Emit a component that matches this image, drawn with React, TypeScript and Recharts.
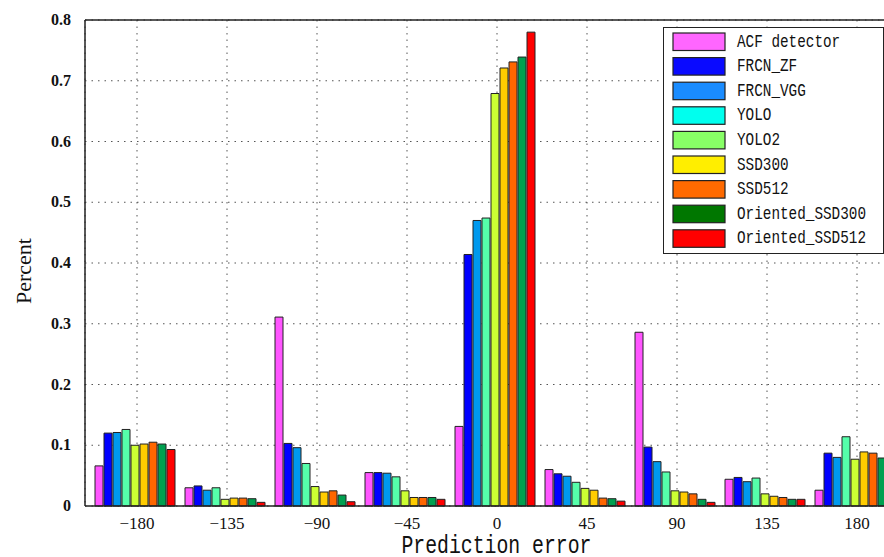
import { BarChart, Bar, XAxis, YAxis, CartesianGrid, Legend, Label, ReferenceLine } from "recharts";

const categories = [-180, -135, -90, -45, 0, 45, 90, 135, 180];
const yTicks = [0, 0.1, 0.2, 0.3, 0.4, 0.5, 0.6, 0.7, 0.8];

const acf = [0.066, 0.03, 0.311, 0.055, 0.131, 0.06, 0.286, 0.044, 0.026];
const frcnZf = [0.12, 0.033, 0.103, 0.055, 0.414, 0.053, 0.097, 0.047, 0.087];
const frcnVgg = [0.121, 0.026, 0.096, 0.054, 0.47, 0.049, 0.073, 0.04, 0.08];
const yolo = [0.126, 0.03, 0.07, 0.048, 0.474, 0.039, 0.056, 0.046, 0.114];
const yolo2 = [0.1, 0.011, 0.032, 0.025, 0.679, 0.029, 0.025, 0.02, 0.077];
const ssd300 = [0.102, 0.013, 0.023, 0.014, 0.721, 0.026, 0.023, 0.016, 0.089];
const ssd512 = [0.105, 0.013, 0.025, 0.014, 0.731, 0.013, 0.02, 0.014, 0.087];
const orientedSsd300 = [0.102, 0.012, 0.018, 0.014, 0.739, 0.012, 0.011, 0.011, 0.079];
const orientedSsd512 = [0.093, 0.006, 0.007, 0.011, 0.78, 0.008, 0.006, 0.011, 0.065];

const series = [
  { key: "acf", name: "ACF detector", values: acf, fill: "#ff55ff", legend: "#ff66ff" },
  { key: "frcnZf", name: "FRCN_ZF", values: frcnZf, fill: "#0000ff", legend: "#0a0aff" },
  { key: "frcnVgg", name: "FRCN_VGG", values: frcnVgg, fill: "#0099ee", legend: "#1a8cff" },
  { key: "yolo", name: "YOLO", values: yolo, fill: "#55ffaa", legend: "#00ffee" },
  { key: "yolo2", name: "YOLO2", values: yolo2, fill: "#ccff33", legend: "#88ff66" },
  { key: "ssd300", name: "SSD300", values: ssd300, fill: "#ffcc00", legend: "#ffee00" },
  { key: "ssd512", name: "SSD512", values: ssd512, fill: "#ff6600", legend: "#ff6a00" },
  { key: "oSsd300", name: "Oriented_SSD300", values: orientedSsd300, fill: "#00a050", legend: "#007700" },
  { key: "oSsd512", name: "Oriented_SSD512", values: orientedSsd512, fill: "#ff0000", legend: "#ff0000" },
];

const data = categories.map((c, i) => {
  const row: Record<string, number> = { angle: c };
  series.forEach((s) => (row[s.key] = s.values[i]));
  return row;
});

const monoFont = "Liberation Mono, DejaVu Sans Mono, monospace";
const serifFont = "Liberation Serif, DejaVu Serif, serif";

function XTick({ x, y, payload }: any) {
  return (
    <text x={x} y={y + 12} textAnchor="middle" style={{ fontFamily: serifFont, fontSize: 17 }} fill="#111">
      {String(payload.value).replace("-", "\u2212")}
    </text>
  );
}

function YTick({ x, y, payload }: any) {
  const v = payload.value;
  return (
    <text x={x} y={y + 5} textAnchor="end" style={{ fontFamily: serifFont, fontSize: 16, fontWeight: "bold" }} fill="#111">
      {v === 0 ? "0" : Number(v).toFixed(1)}
    </text>
  );
}

function LegendBox() {
  const rowStep = 24.6;
  return (
    <svg width={222} height={228} style={{ display: "block" }}>
      <rect x={0.5} y={0.5} width={220} height={226} fill="#fff" stroke="#222" />
      {series.map((s, i) => {
        const top = 6 + i * rowStep;
        return (
          <g key={s.key}>
            <rect x={10} y={top} width={52} height={17.5} fill={s.legend} stroke="#222" strokeWidth={1.2} />
            <text
              x={74}
              y={top + 13.5}
              style={{ fontFamily: monoFont, fontSize: 18 }}
              fill="#111"
              textLength={s.name.length * 8.6}
              lengthAdjust="spacingAndGlyphs"
            >
              {s.name}
            </text>
          </g>
        );
      })}
    </svg>
  );
}

export default function App() {
  return (
    <div style={{ position: "absolute", left: 0, top: 0, width: 884, height: 557, overflow: "hidden", background: "#fff" }}>
      <BarChart
        width={930}
        height={557}
        data={data}
        margin={{ top: 20, right: 28, bottom: 0, left: 0 }}
        barCategoryGap={3}
        barGap={1}
      >
        <CartesianGrid stroke="#555" strokeDasharray="1.5 5" />
        <XAxis
          dataKey="angle"
          height={51}
          padding={{ left: 7, right: 0 }}
          tickLine={false}
          tickSize={6}
          tickMargin={5}
          axisLine={{ stroke: "#222", strokeWidth: 1.5 }}
          tick={<XTick />}
        >
          <Label
            content={(p: any) => {
              const vb = p.viewBox || { x: 85, width: 817, y: 506 };
              return (
                <text
                  x={vb.x + vb.width / 2 + 3}
                  y={553}
                  textAnchor="middle"
                  style={{ fontFamily: monoFont, fontSize: 25 }}
                  fill="#111"
                  textLength={190}
                  lengthAdjust="spacingAndGlyphs"
                >
                  Prediction error
                </text>
              );
            }}
          />
        </XAxis>
        <YAxis
          width={85}
          domain={[0, 0.8]}
          ticks={yTicks}
          interval={0}
          tickLine={false}
          tickSize={6}
          tickMargin={8}
          axisLine={{ stroke: "#222", strokeWidth: 1.5 }}
          tick={<YTick />}
        >
          <Label
            content={(p: any) => {
              const vb = p.viewBox || { x: 0, y: 20, width: 85, height: 486 };
              const cx = vb.x + 31;
              const cy = vb.y + vb.height / 2 + 8;
              return (
                <text
                  x={cx}
                  y={cy}
                  transform={`rotate(-90, ${cx}, ${cy})`}
                  textAnchor="middle"
                  style={{ fontFamily: serifFont, fontSize: 22 }}
                  fill="#111"
                >
                  Percent
                </text>
              );
            }}
          />
        </YAxis>
        <ReferenceLine y={0.8} stroke="#222" strokeWidth={1.5} />
        <Legend
          layout="vertical"
          align="center"
          verticalAlign="middle"
          content={() => <LegendBox />}
          wrapperStyle={{ position: "absolute", left: 663, top: 27, width: 222, height: 228 }}
        />
        {series.map((s) => (
          <Bar
            key={s.key}
            dataKey={s.key}
            name={s.name}
            fill={s.fill}
            stroke="#222"
            strokeWidth={1}
            isAnimationActive={false}
          />
        ))}
      </BarChart>
    </div>
  );
}
